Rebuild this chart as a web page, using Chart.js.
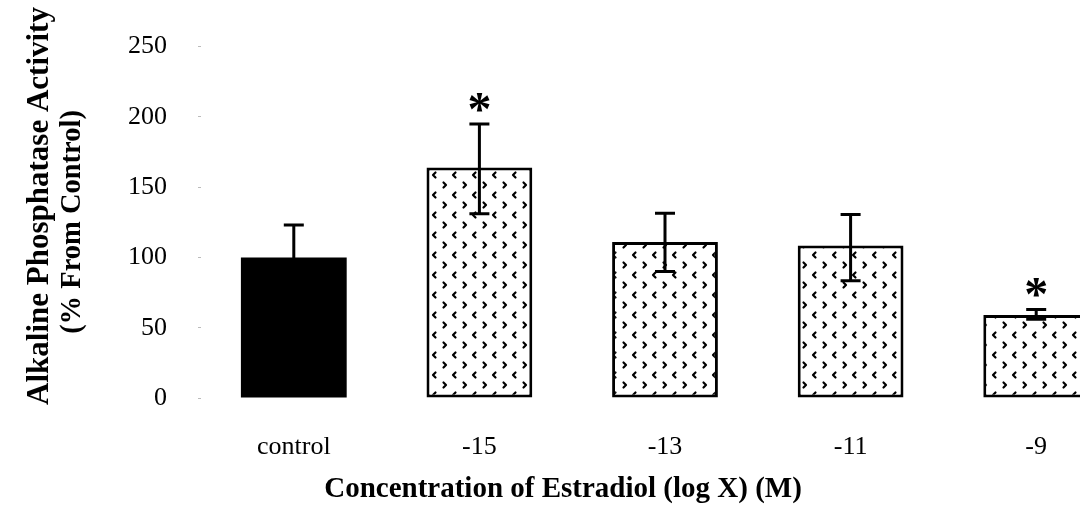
<!DOCTYPE html>
<html>
<head>
<meta charset="utf-8">
<script src="https://cdn.jsdelivr.net/npm/chart.js@4"></script>
<style>
  html, body { margin: 0; padding: 0; background: #fff; overflow: hidden; }
  #wrap { position: relative; width: 1129px; height: 510px; }
</style>
</head>
<body>
<div id="wrap"><canvas id="c"></canvas></div>
<script>
// Alkaline phosphatase activity by estradiol concentration
const categories = ['control', '-15', '-13', '-11', '-9'];
const activity   = [100, 164, 111, 108.5, 59];
const errHigh    = [123, 195, 131.5, 130.6, 63];
const errLow     = [77, 131, 90, 83.5, 56];
const significant = [false, true, false, false, true];
const yTicks     = [0, 50, 100, 150, 200, 250];

const yTitleLines = ['Alkaline Phosphatase Activity', '(% From Control)'];
const xTitle = 'Concentration of Estradiol (log X) (M)';

const SERIF = '"Liberation Serif", "Times New Roman", serif';

// dotted chevron fill: rows of ">" alternating with offset rows of "<"
function chevronPattern() {
  const t = document.createElement('canvas');
  t.width = 20; t.height = 20;
  const g = t.getContext('2d');
  g.fillStyle = '#fff';
  g.fillRect(0, 0, 20, 20);
  g.strokeStyle = '#000';
  g.lineWidth = 2.2;
  g.lineCap = 'round';
  g.lineJoin = 'round';
  g.beginPath();
  g.moveTo(3.5, 2.5); g.lineTo(6, 5); g.lineTo(3.5, 7.5);
  g.moveTo(15.5, 12.5); g.lineTo(13, 15); g.lineTo(15.5, 17.5);
  g.stroke();
  return g.createPattern(t, 'repeat');
}
const pattern = chevronPattern();

const errorBars = {
  id: 'errorBars',
  afterDatasetsDraw(chart) {
    const ctx = chart.ctx;
    const meta = chart.getDatasetMeta(0);
    const y = chart.scales.y;
    ctx.save();
    ctx.strokeStyle = '#000';
    ctx.lineWidth = 3;
    meta.data.forEach((bar, i) => {
      const x = bar.x;
      const top = y.getPixelForValue(errHigh[i]);
      const bot = y.getPixelForValue(errLow[i]);
      ctx.beginPath();
      ctx.moveTo(x, top); ctx.lineTo(x, bot);
      ctx.moveTo(x - 10, top); ctx.lineTo(x + 10, top);
      ctx.moveTo(x - 10, bot); ctx.lineTo(x + 10, bot);
      ctx.stroke();
      if (significant[i]) {
        ctx.fillStyle = '#000';
        ctx.font = 'bold 48px ' + SERIF;
        ctx.textAlign = 'center';
        ctx.textBaseline = 'alphabetic';
        ctx.fillText('*', x, top + 1);
      }
    });
    ctx.restore();
  }
};

const titles = {
  id: 'titles',
  afterDraw(chart) {
    const ctx = chart.ctx;
    ctx.save();
    ctx.fillStyle = '#000';
    ctx.textAlign = 'center';
    ctx.textBaseline = 'middle';
    ctx.font = 'bold 29px ' + SERIF;
    ctx.fillText(xTitle, 563, 490);
    const pos = [[40, 206, 31], [73, 222, 28.5]];
    yTitleLines.forEach((s, i) => {
      ctx.save();
      ctx.font = 'bold ' + pos[i][2] + 'px ' + SERIF;
      ctx.translate(pos[i][0], pos[i][1]);
      ctx.rotate(-Math.PI / 2);
      ctx.fillText(s, 0, 0);
      ctx.restore();
    });
    ctx.restore();
  }
};

new Chart(document.getElementById('c'), {
  type: 'bar',
  data: {
    labels: categories,
    datasets: [{
      data: activity,
      backgroundColor: categories.map((_, i) => i === 0 ? '#000' : pattern),
      borderColor: '#000',
      borderWidth: categories.map((_, i) => i === 0 ? 0 : 3),
      borderSkipped: false,
      barPercentage: 0.57,
      categoryPercentage: 1.0
    }]
  },
  options: {
    responsive: true,
    maintainAspectRatio: false,
    animation: false,
    layout: { padding: { top: 42, left: 0, right: 0, bottom: 0 } },
    plugins: { legend: { display: false }, tooltip: { enabled: false } },
    scales: {
      x: {
        grid: { display: false },
        border: { display: false },
        ticks: {
          color: '#000',
          font: { family: SERIF, size: 26 },
          padding: 26,
          maxRotation: 0
        },
        afterFit(s) { s.height = 112; }
      },
      y: {
        min: 0,
        max: 250,
        afterBuildTicks(s) { s.ticks = yTicks.map(v => ({ value: v })); },
        grid: { drawOnChartArea: false, drawTicks: true, tickLength: 3, tickColor: '#bbb', tickWidth: 1 },
        border: { display: false },
        ticks: {
          color: '#000',
          font: { family: SERIF, size: 26 },
          padding: 31
        },
        afterFit(s) { s.width = 201; }
      }
    }
  },
  plugins: [errorBars, titles]
});
</script>
</body>
</html>
